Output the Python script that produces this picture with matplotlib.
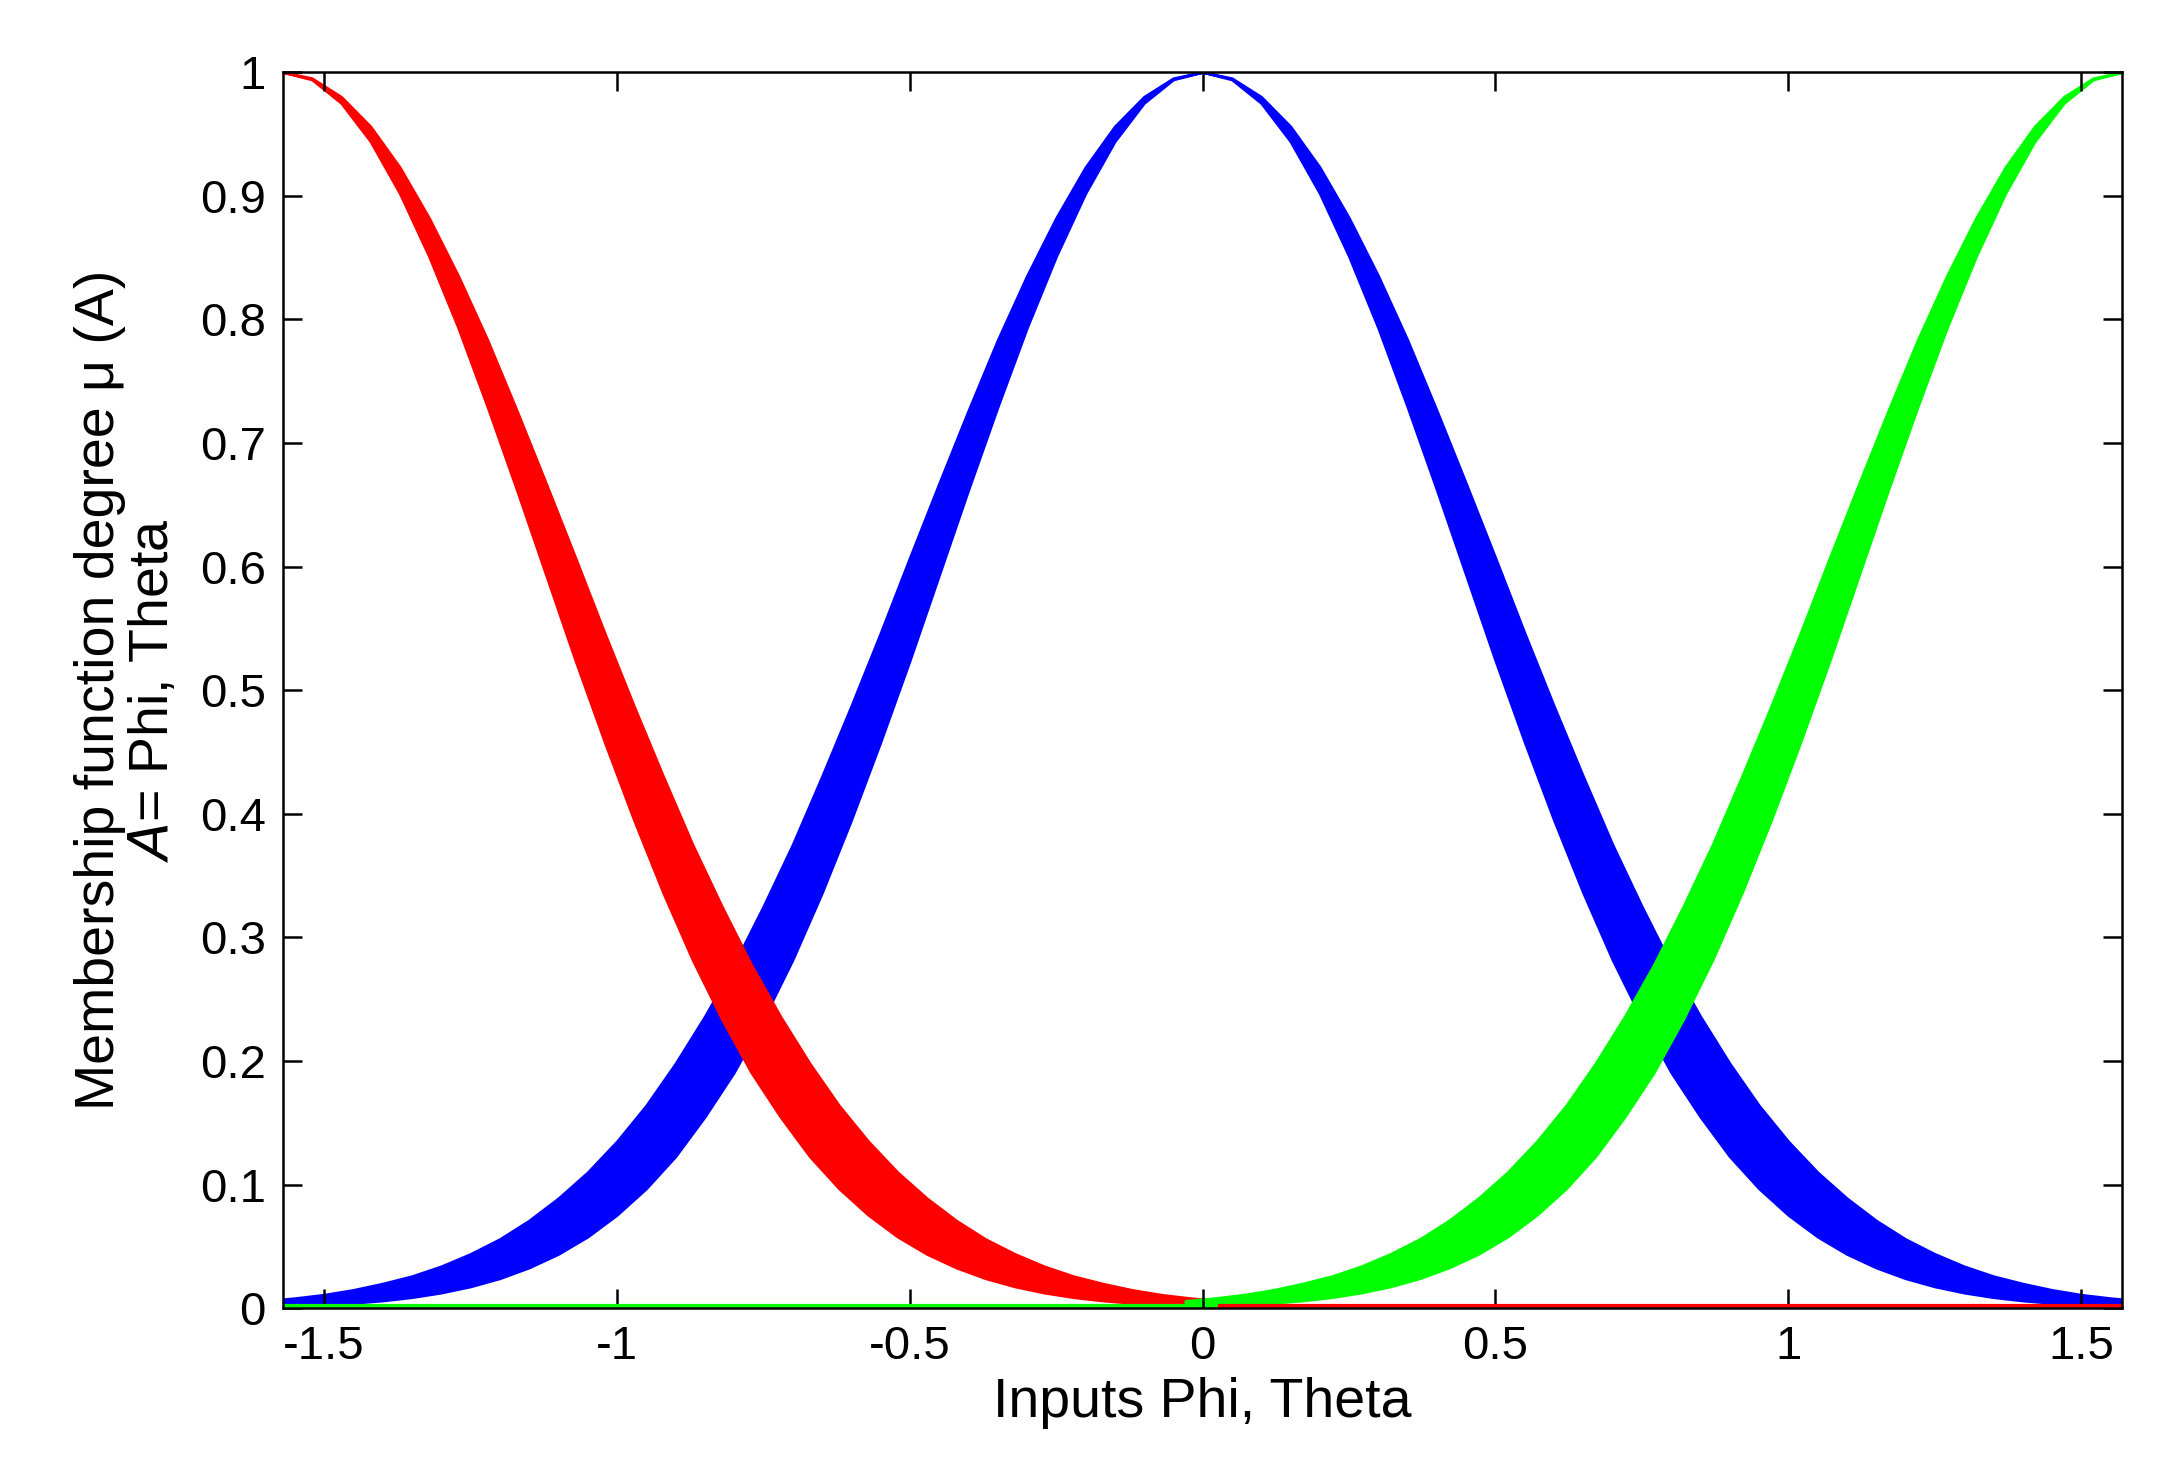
import numpy as np
import matplotlib
import matplotlib.pyplot as plt

matplotlib.use('Agg')

# distance from a curve's peak, and the two edges of each band
dist = [0.0, 0.05, 0.1, 0.15, 0.2, 0.25, 0.3, 0.35, 0.4, 0.45, 0.5, 0.55, 0.6, 0.65,
        0.7, 0.75, 0.8, 0.85, 0.9, 0.95, 1.0, 1.05, 1.1, 1.15, 1.2, 1.25, 1.3, 1.35,
        1.4, 1.45, 1.5, 1.55, 1.6]
outer = [1.0, 0.995, 0.980, 0.956, 0.923, 0.882, 0.835, 0.783, 0.726, 0.667, 0.607,
         0.546, 0.487, 0.430, 0.375, 0.325, 0.278, 0.236, 0.198, 0.164, 0.135, 0.110,
         0.089, 0.071, 0.056, 0.044, 0.034, 0.026, 0.020, 0.0149, 0.011, 0.0082, 0.006]
inner = [1.0, 0.994, 0.975, 0.944, 0.902, 0.851, 0.793, 0.729, 0.662, 0.593, 0.524,
         0.458, 0.395, 0.336, 0.282, 0.234, 0.191, 0.155, 0.123, 0.097, 0.0756, 0.058,
         0.044, 0.033, 0.0243, 0.0177, 0.0127, 0.0090, 0.0063, 0.0044, 0.0030, 0.0020,
         0.0013]
half_pi = np.pi / 2

d = np.array(dist)
up = np.array(outer)
lo = np.array(inner)

plt.rcParams['font.family'] = ['Liberation Sans', 'DejaVu Sans']
fig = plt.figure(figsize=(21.57, 14.7), dpi=100)
ax = fig.add_axes([0.131, 0.110, 0.853, 0.841])

# blue, centred at 0
bx = np.concatenate([-d[::-1], d[1:]])
bu = np.concatenate([up[::-1], up[1:]])
bl = np.concatenate([lo[::-1], lo[1:]])
ax.fill_between(bx, bl, bu, color='#0000ff', lw=2, edgecolor='#0000ff')

# red, peak at -pi/2
ax.fill_between(-half_pi + d, lo, up, color='#ff0000', lw=2, edgecolor='#ff0000')
ax.plot([-half_pi + d[-1], half_pi], [0.002, 0.002], color='#ff0000', lw=3)

# green, peak at +pi/2
ax.fill_between(half_pi - d, lo, up, color='#00ff00', lw=2, edgecolor='#00ff00')
ax.plot([-half_pi, half_pi - d[-1]], [0.002, 0.002], color='#00ff00', lw=3)

ax.set_xlim(-half_pi, half_pi)
ax.set_ylim(0, 1)
ax.set_xticks([-1.5, -1, -0.5, 0, 0.5, 1, 1.5])
ax.set_xticklabels(['-1.5', '-1', '-0.5', '0', '0.5', '1', '1.5'])
ax.set_yticks(np.arange(0, 1.01, 0.1))
ax.set_yticklabels(['0', '0.1', '0.2', '0.3', '0.4', '0.5', '0.6', '0.7', '0.8', '0.9', '1'])
ax.tick_params(direction='in', top=True, right=True, length=14, width=1.8, labelsize=34, pad=12)
for s in ax.spines.values():
    s.set_linewidth(1.8)

ax.set_xlabel('Inputs Phi, Theta', fontsize=40, labelpad=6)
ax.set_ylabel('Membership function degree μ (A)\n$A$= Phi, Theta', fontsize=40, labelpad=14, linespacing=1.05)

plt.savefig('out.png', dpi=100)
plt.close(fig)
